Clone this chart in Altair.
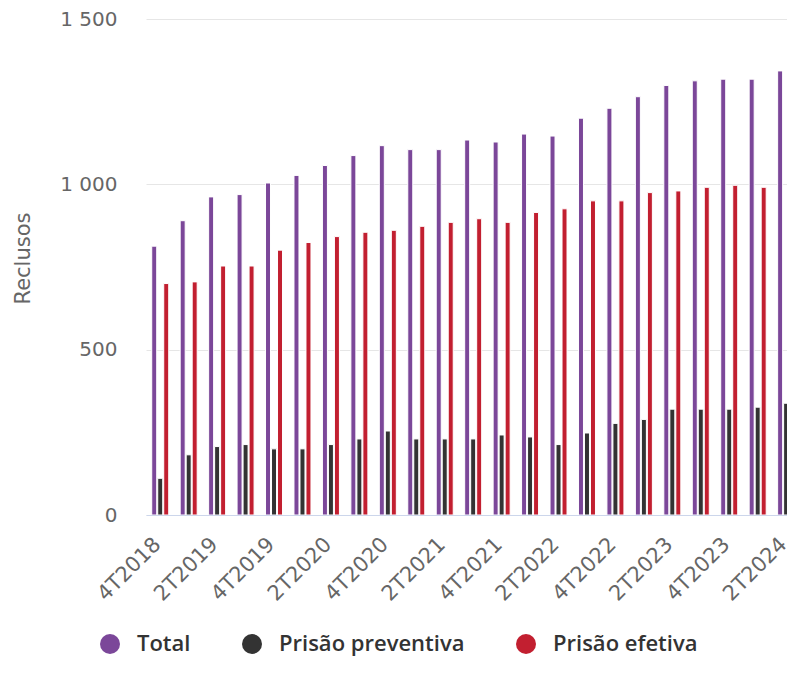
import altair as alt
import pandas as pd

quarters = [
    "4T2018",
    "1T2019", "2T2019", "3T2019", "4T2019",
    "1T2020", "2T2020", "3T2020", "4T2020",
    "1T2021", "2T2021", "3T2021", "4T2021",
    "1T2022", "2T2022", "3T2022", "4T2022",
    "1T2023", "2T2023", "3T2023", "4T2023",
    "1T2024", "2T2024",
]
total = [813, 890, 962, 969, 1004, 1027, 1057, 1087, 1117, 1105, 1105, 1134,
         1128, 1152, 1146, 1200, 1230, 1265, 1299, 1313, 1318, 1318, 1343]
preventiva = [111, 182, 207, 213, 200, 200, 213, 230, 254, 230, 230, 230,
              242, 236, 213, 248, 277, 289, 320, 320, 320, 326, 338]
efetiva = [700, 705, 753, 753, 801, 824, 842, 855, 861, 873, 885, 896,
           885, 915, 926, 950, 950, 975, 980, 991, 997, 991, 1004]

series = ["Total", "Prisão preventiva", "Prisão efetiva"]
colors = ["#7b4799", "#333333", "#c21f30"]
y_ticks = [0, 500, 1000, 1500]

# layout constants (pixels)
PLOT_W = 641
STEP_PX = 28.45         # width of one quarter group
SUB_PX = 6.0            # distance between bars in a group
group_shift = {s: (i - 1) * SUB_PX / STEP_PX for i, s in enumerate(series)}
x_max = PLOT_W / STEP_PX - 0.5   # the last group runs into the right edge, as in the source

rows = []
for i, (q, t, p, e) in enumerate(zip(quarters, total, preventiva, efetiva)):
    for s, v in zip(series, (t, p, e)):
        rows.append({"idx": i, "quarter": q, "series": s, "value": v,
                     "pos": i + group_shift[s]})
df = pd.DataFrame(rows)

label_array = "[" + ",".join("'" + q + "'" for q in quarters) + "]"
label_values = list(range(0, len(quarters), 2))

chart = alt.Chart(df).mark_bar(
    orient="vertical", width=5, stroke="#ffffff", strokeWidth=1, clip=True
).encode(
    x=alt.X(
        "pos:Q",
        scale=alt.Scale(domain=[-0.5, x_max], nice=False, zero=False, padding=0),
        axis=alt.Axis(
            title=None,
            values=label_values,
            labelExpr=label_array + "[datum.value]",
            labelAngle=-45,
            labelAlign="right",
            labelBaseline="middle",
            labelPadding=26,
            labelOffset=-3,
            labelFont="DejaVu Sans",
            labelFontSize=21,
            labelColor="#666666",
            labelOverlap=False,
            labelFlush=False,
            labelBound=False,
            ticks=False,
            grid=False,
            domainColor="#ccd6eb",
            domainWidth=1,
        ),
    ),
    y=alt.Y(
        "value:Q",
        scale=alt.Scale(domain=[0, 1500], nice=False),
        axis=alt.Axis(
            title="Reclusos",
            values=y_ticks,
            labelExpr="replace(format(datum.value, ','), ',', ' ')",
            labelFont="DejaVu Sans",
            labelFontSize=20,
            labelColor="#666666",
            labelPadding=29,
            ticks=False,
            domain=False,
            grid=True,
            gridColor="#e6e6e6",
            gridWidth=1,
            titleFont="DejaVu Sans",
            titleFontSize=21,
            titleFontWeight="normal",
            titleColor="#666666",
            titleAngle=-90,
            titleAlign="center",
            titleBaseline="middle",
            titleX=-123,
            titleY=239,
        ),
    ),
    color=alt.Color(
        "series:N",
        sort=series,
        scale=alt.Scale(domain=series, range=colors),
        legend=alt.Legend(
            title=None,
            orient="none",
            legendX=-47,
            legendY=614,
            direction="horizontal",
            symbolType="circle",
            symbolSize=400,
            symbolStrokeWidth=0,
            labelFont="Open Sans",
            labelFontWeight=600,
            labelFontSize=22,
            labelColor="#333333",
            labelOffset=16,
            labelLimit=400,
            columnPadding=50,
        ),
    ),
    tooltip=["quarter:N", "series:N", "value:Q"],
).properties(
    width=PLOT_W,
    height=496,
    autosize=alt.AutoSizeParams(type="none"),
    padding={"left": 138, "top": 11, "right": 0, "bottom": 145},
).configure_view(stroke=None)

chart.save("out.html", embed_options={"renderer": "svg", "actions": False})
